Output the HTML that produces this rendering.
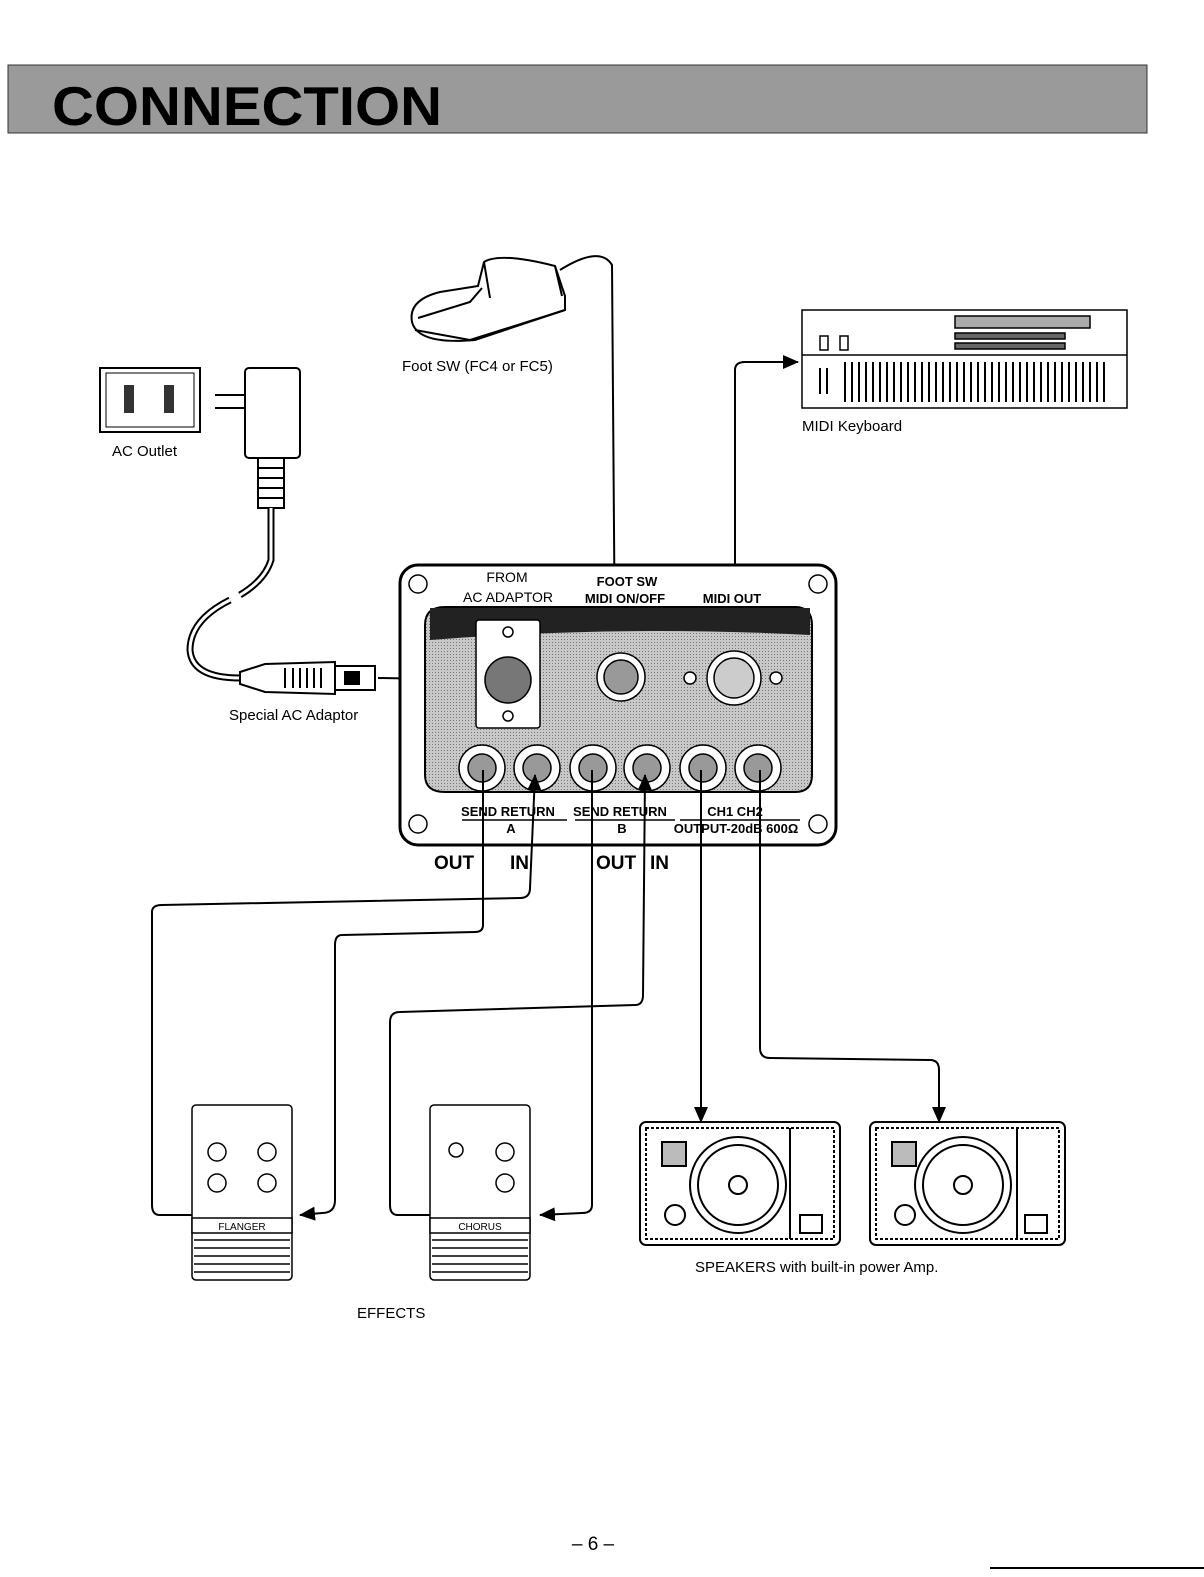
<!DOCTYPE html>
<html><head><meta charset="utf-8"><style>
html,body{margin:0;padding:0;background:#fff;}
svg{display:block;font-family:"Liberation Sans",sans-serif;}
</style></head><body>
<svg width="1204" height="1577" viewBox="0 0 1204 1577" xmlns="http://www.w3.org/2000/svg">
<defs>
<pattern id="dots" width="3" height="3" patternUnits="userSpaceOnUse"><rect width="3" height="3" fill="#c8c8c8"/><rect width="1" height="1" fill="#777"/></pattern>
<marker id="ab" markerWidth="16" markerHeight="14" refX="15" refY="7" orient="auto" markerUnits="userSpaceOnUse"><path d="M0,0 L16,7 L0,14 z" fill="#000"/></marker>
</defs>
<!-- banner -->
<rect x="8" y="65" width="1139" height="68" fill="#9a9a9a" stroke="#333"/>
<text x="52" y="125" font-size="55" font-weight="bold" textLength="390" lengthAdjust="spacingAndGlyphs" fill="#000">CONNECTION</text>

<!-- foot pedal -->
<g stroke="#000" stroke-width="2" fill="#fff">
<path d="M412,322 Q408,300 440,292 L478,286 L484,262 Q500,252 555,266 L565,296 L565,310 L475,340 Q418,345 412,322z"/>
<path d="M418,318 L470,302 L482,288"/>
<path d="M484,262 L490,298 M555,266 L562,296"/>
<path d="M415,330 L470,340 L565,310" fill="none"/>
</g>
<path d="M560,270 Q600,245 612,265 L615,660" fill="none" stroke="#000" stroke-width="2"/>
<text x="402" y="371" font-size="15">Foot SW (FC4 or FC5)</text>

<!-- AC outlet -->
<rect x="100" y="368" width="100" height="64" fill="#fff" stroke="#000" stroke-width="2"/>
<rect x="106" y="373" width="88" height="54" fill="none" stroke="#000"/>
<rect x="124" y="385" width="10" height="28" fill="#333"/><rect x="164" y="385" width="10" height="28" fill="#333"/>
<text x="112" y="456" font-size="15">AC Outlet</text>
<!-- adaptor -->
<g stroke="#000" stroke-width="2" fill="#fff">
<rect x="245" y="368" width="55" height="90" rx="4"/>
<path d="M215,395 L245,395 M215,408 L245,408"/>
<rect x="258" y="458" width="26" height="50"/>
<path d="M258,468h26M258,478h26M258,488h26M258,498h26"/>
</g>
<path d="M271,508 L271,560 Q265,580 240,595 M230,600 Q190,620 190,650 Q192,678 240,678" fill="none" stroke="#000" stroke-width="7"/>
<path d="M271,508 L271,560 Q265,580 240,595 M230,600 Q190,620 190,650 Q192,678 240,678" fill="none" stroke="#fff" stroke-width="3"/>
<g stroke="#000" stroke-width="2" fill="#fff">
<path d="M240,672 L265,664 L335,662 L335,694 L265,692 L240,684z"/>
<path d="M285,668v20M293,668v20M300,668v20M307,668v20M314,668v20M321,668v20"/>
<rect x="335" y="666" width="40" height="24"/>
<rect x="345" y="672" width="14" height="12" fill="#000"/>
</g>
<text x="229" y="720" font-size="15">Special AC Adaptor</text>
<line x1="378" y1="678" x2="490" y2="680" stroke="#000" stroke-width="2"/>

<!-- keyboard -->
<g stroke="#000" stroke-width="1.5" fill="#fff">
<rect x="802" y="310" width="325" height="98"/>
<line x1="802" y1="355" x2="1127" y2="355"/>
<rect x="955" y="316" width="135" height="12" fill="#aaa"/>
<rect x="955" y="333" width="110" height="6" fill="#666"/>
<rect x="955" y="343" width="110" height="6" fill="#666"/>
<rect x="820" y="336" width="8" height="14"/><rect x="840" y="336" width="8" height="14"/>
</g>
<g stroke="#000" stroke-width="2">
<path d="M820,368v26M827,368v26M845,362v40M852,362v40M859,362v40M866,362v40M873,362v40M880,362v40M887,362v40M894,362v40M901,362v40M908,362v40M915,362v40M922,362v40M929,362v40M936,362v40M943,362v40M950,362v40M957,362v40M964,362v40M971,362v40M978,362v40M985,362v40M992,362v40M999,362v40M1006,362v40M1013,362v40M1020,362v40M1027,362v40M1034,362v40M1041,362v40M1048,362v40M1055,362v40M1062,362v40M1069,362v40M1076,362v40M1083,362v40M1090,362v40M1097,362v40M1104,362v40"/>
</g>
<text x="802" y="431" font-size="15">MIDI Keyboard</text>
<path d="M735,680 L735,370 Q735,362 745,362 L798,362" fill="none" stroke="#000" stroke-width="2" marker-end="url(#ab)"/>

<!-- panel -->
<rect x="400" y="565" width="436" height="280" rx="18" fill="#fff" stroke="#000" stroke-width="3"/>
<path d="M425,625 Q425,607 445,607 L795,607 Q812,607 812,625 L812,775 Q812,792 795,792 L445,792 Q425,792 425,775z" fill="url(#dots)" stroke="#000" stroke-width="2"/>
<path d="M430,608 L810,608 L810,635 Q620,625 430,640z" fill="#222"/>
<g fill="#fff" stroke="#000" stroke-width="1.5">
<circle cx="418" cy="584" r="9"/><circle cx="818" cy="584" r="9"/><circle cx="418" cy="824" r="9"/><circle cx="818" cy="824" r="9"/>
<rect x="476" y="620" width="64" height="108" rx="3"/>
<circle cx="508" cy="680" r="23" fill="#777"/>
<circle cx="508" cy="632" r="5"/><circle cx="508" cy="716" r="5"/>
<circle cx="621" cy="677" r="24"/><circle cx="621" cy="677" r="17" fill="#999"/>
<circle cx="734" cy="678" r="27"/><circle cx="734" cy="678" r="20" fill="#ccc"/>
<circle cx="690" cy="678" r="6"/><circle cx="776" cy="678" r="6"/>
<circle cx="482" cy="768" r="23"/><circle cx="482" cy="768" r="14" fill="#999"/>
<circle cx="537" cy="768" r="23"/><circle cx="537" cy="768" r="14" fill="#999"/>
<circle cx="593" cy="768" r="23"/><circle cx="593" cy="768" r="14" fill="#999"/>
<circle cx="647" cy="768" r="23"/><circle cx="647" cy="768" r="14" fill="#999"/>
<circle cx="703" cy="768" r="23"/><circle cx="703" cy="768" r="14" fill="#999"/>
<circle cx="758" cy="768" r="23"/><circle cx="758" cy="768" r="14" fill="#999"/>
</g>
<g font-size="13" font-weight="bold" text-anchor="middle">
<text x="507" y="582" font-weight="normal" font-size="14">FROM</text>
<text x="508" y="602" font-weight="normal" font-size="14">AC ADAPTOR</text>
<text x="627" y="586">FOOT SW</text>
<text x="625" y="603">MIDI  ON/OFF</text>
<text x="732" y="603">MIDI OUT</text>
<text x="508" y="816">SEND RETURN</text>
<text x="620" y="816">SEND  RETURN</text>
<text x="735" y="816">CH1    CH2</text>
<text x="511" y="833">A</text>
<text x="622" y="833">B</text>
<text x="736" y="833">OUTPUT-20dB 600Ω</text>
</g>
<path d="M462,820h105M575,820h100M680,820h120" stroke="#000" stroke-width="1.5"/>
<g font-size="19" font-weight="bold"><text x="434" y="869">OUT</text><text x="510" y="869">IN</text><text x="596" y="869">OUT</text><text x="650" y="869">IN</text></g>

<!-- connectors -->
<g fill="none" stroke="#000" stroke-width="2">
<path d="M483,770 L483,925 Q483,932 475,932 L342,935 Q335,935 335,945 L335,1200 Q335,1213 322,1213 L300,1215" marker-end="url(#ab)"/>
<path d="M192,1215 L160,1215 Q152,1215 152,1205 L152,912 Q152,905 162,905 L520,898 Q530,898 530,888 L535,775" marker-end="url(#ab)"/>
<path d="M592,770 L592,1205 Q592,1213 582,1213 L540,1215" marker-end="url(#ab)"/>
<path d="M432,1215 L398,1215 Q390,1215 390,1205 L390,1022 Q390,1012 400,1012 L635,1005 Q643,1005 643,995 L645,775" marker-end="url(#ab)"/>
<path d="M701,770 L701,1122" marker-end="url(#ab)"/>
<path d="M760,770 L760,1048 Q760,1058 770,1058 L930,1060 Q939,1060 939,1070 L939,1122" marker-end="url(#ab)"/>
</g>

<!-- effects -->
<g stroke="#000" stroke-width="1.5" fill="#fff">
<rect x="192" y="1105" width="100" height="175" rx="4"/>
<rect x="192" y="1218" width="100" height="15"/>
<path d="M194,1240h96M194,1248h96M194,1256h96M194,1264h96M194,1272h96"/>
<circle cx="217" cy="1152" r="9"/><circle cx="267" cy="1152" r="9"/><circle cx="217" cy="1183" r="9"/><circle cx="267" cy="1183" r="9"/>
<rect x="430" y="1105" width="100" height="175" rx="4"/>
<rect x="430" y="1218" width="100" height="15"/>
<path d="M432,1240h96M432,1248h96M432,1256h96M432,1264h96M432,1272h96"/>
<circle cx="456" cy="1150" r="7"/><circle cx="505" cy="1152" r="9"/><circle cx="505" cy="1183" r="9"/>
</g>
<text x="242" y="1230" font-size="10" text-anchor="middle">FLANGER</text>
<text x="480" y="1230" font-size="10" text-anchor="middle">CHORUS</text>
<text x="357" y="1318" font-size="15">EFFECTS</text>

<!-- speakers -->
<g stroke="#000" stroke-width="2" fill="#fff">
<rect x="640" y="1122" width="200" height="123" rx="6"/>
<rect x="646" y="1128" width="188" height="111" fill="none" stroke-dasharray="3 2"/>
<circle cx="738" cy="1185" r="48"/><circle cx="738" cy="1185" r="40"/><circle cx="738" cy="1185" r="9"/>
<circle cx="675" cy="1215" r="10"/><rect x="662" y="1142" width="24" height="24" fill="#bbb"/>
<line x1="790" y1="1128" x2="790" y2="1239"/>
<rect x="800" y="1215" width="22" height="18"/>
<rect x="870" y="1122" width="195" height="123" rx="6"/>
<rect x="876" y="1128" width="183" height="111" fill="none" stroke-dasharray="3 2"/>
<circle cx="963" cy="1185" r="48"/><circle cx="963" cy="1185" r="40"/><circle cx="963" cy="1185" r="9"/>
<circle cx="905" cy="1215" r="10"/><rect x="892" y="1142" width="24" height="24" fill="#bbb"/>
<line x1="1017" y1="1128" x2="1017" y2="1239"/>
<rect x="1025" y="1215" width="22" height="18"/>
</g>
<text x="695" y="1272" font-size="15">SPEAKERS with built-in power Amp.</text>

<text x="593" y="1550" font-size="19" text-anchor="middle">– 6 –</text>
<line x1="990" y1="1568" x2="1204" y2="1568" stroke="#000" stroke-width="2"/>
</svg>
</body></html>
